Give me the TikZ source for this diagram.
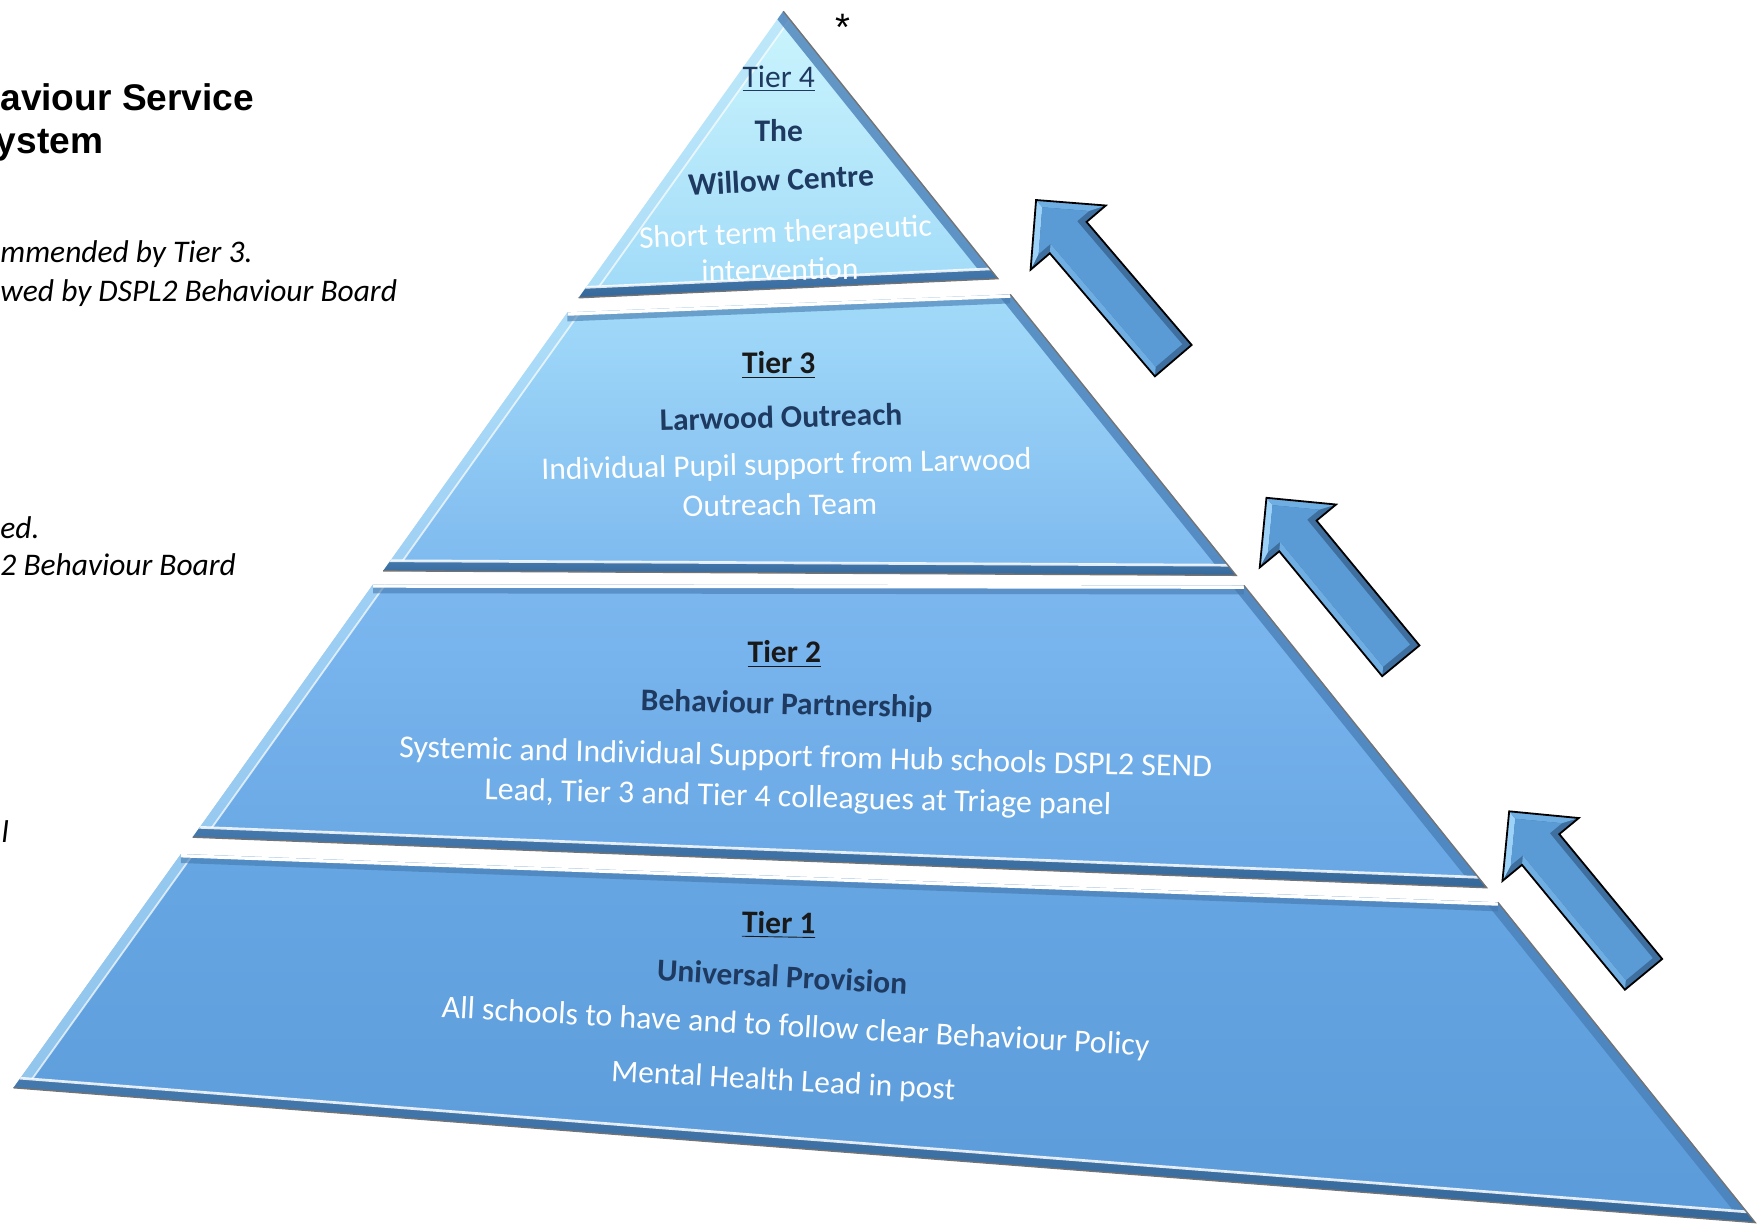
\documentclass[tikz,border=0pt]{standalone}
\usepackage{fontspec}
\setmainfont{Carlito}
\newfontfamily\headfont{Liberation Sans}
\usetikzlibrary{calc}
\definecolor{navy}{HTML}{1F3A60}
\definecolor{bevdark}{HTML}{4479AE}
\definecolor{bevdeep}{HTML}{36689A}
\definecolor{bevlight}{HTML}{B5E0F8}
\definecolor{bevright}{HTML}{4A80B8}
\definecolor{arrowmid}{HTML}{5B9BD5}
\definecolor{arrowdark}{HTML}{3E6F9E}
\definecolor{arrowlight}{HTML}{9CD2F7}
\definecolor{arrowside}{HTML}{6FAEE3}
\definecolor{tfourtop}{HTML}{CBF5FD}
\definecolor{tfourbot}{HTML}{A0DAF8}
\definecolor{tthreetop}{HTML}{A2DBF9}
\definecolor{tthreebot}{HTML}{7EB9EF}
\definecolor{ttwotop}{HTML}{7CB7EF}
\definecolor{ttwobot}{HTML}{68A7E4}
\definecolor{tonetop}{HTML}{66A6E3}
\definecolor{tonebot}{HTML}{5C9BD9}

\newcommand{\pyrtier}[6]{%
 \begin{scope}
  \clip (#1) -- (#2) -- (#3) -- (#4) -- cycle;
  \shade[top color=#5, bottom color=#6] (#1) -- (#2) -- (#3) -- (#4) -- cycle;
  \fill[bevlight, opacity=.6] (#4) -- (#1) -- ([xshift=5.5pt]#1) -- ([xshift=5.5pt]#4) -- cycle;
  \draw[white, opacity=.7, line width=0.8pt] ([xshift=5.5pt]#4) -- ([xshift=5.5pt]#1);
  \fill[bevright, opacity=.8] (#2) -- (#3) -- ([xshift=-5.5pt]#3) -- ([xshift=-5.5pt]#2) -- cycle;
  \shade[top color=bevdark, bottom color=bevdeep] (#4) -- (#3) -- ([yshift=4.5pt]#3) -- ([yshift=4.5pt]#4) -- cycle;
  \draw[white, opacity=.85, line width=1.2pt] ([yshift=4.5pt]#4) -- ([yshift=4.5pt]#3);
  \fill[bevdark, opacity=.6] (#1) -- (#2) -- ([yshift=-4pt]#2) -- ([yshift=-4pt]#1) -- cycle;
  \draw[white, line width=3pt] (#1) -- (#2);
 \end{scope}
 \draw[black!55, line width=0.6pt] (#2) -- (#3) -- (#4);
}

\newcommand{\blockarrow}[2]{%
 \begin{scope}[shift={(#1)}, rotate=#2]
  \fill[arrowdark] (0,0) -- (44,-44) -- (44,-21.5) -- (188,-21.5) -- (188,21.5) -- (44,21.5) -- (44,44) -- cycle;
  \fill[arrowlight] (0,0) -- (44,44) -- (38,29.5) -- (8.5,0) -- cycle;
  \fill[arrowside] (0,0) -- (44,-44) -- (38,-29.5) -- (8.5,0) -- cycle;
  \fill[arrowside] (44,21.5) -- (188,21.5) -- (182,15.5) -- (38,15.5) -- cycle;
  \fill[arrowmid] (8.5,0) -- (38,-29.5) -- (38,-15.5) -- (182,-15.5) -- (182,15.5) -- (38,15.5) -- (38,29.5) -- cycle;
  \draw[black, line width=0.8pt, line join=miter] (0,0) -- (44,-44) -- (44,-21.5) -- (188,-21.5) -- (188,21.5) -- (44,21.5) -- (44,44) -- cycle;
 \end{scope}
}

\begin{document}
\begin{tikzpicture}[x=0.5pt,y=-0.5pt,
  ptext/.style={font=\fontsize{14}{16}\selectfont, inner sep=0pt, text=white},
  ptitle/.style={font=\bfseries\fontsize{14}{16}\selectfont, inner sep=0pt, text=navy},
  tierlbl/.style={font=\bfseries\fontsize{14}{16}\selectfont, inner sep=0pt, text=black!90},
  sidetext/.style={font=\itshape\fontsize{14}{16}\selectfont, inner sep=0pt, anchor=base west},
  headtext/.style={font=\headfont\bfseries\fontsize{16.5}{19}\selectfont, inner sep=0pt, anchor=base west}]
\useasboundingbox (0,0) rectangle (1568,1090);
\fill[white] (0,0) rectangle (1568,1090);

% pyramid corner points
\coordinate (apex) at (697,10);
\coordinate (t4bl) at (515,265);
\coordinate (t4br) at (888,248);
\coordinate (t3tl) at (505,278);
\coordinate (t3tr) at (899,262);
\coordinate (t3bl) at (341,508);
\coordinate (t3br) at (1100,512);
\coordinate (t2tl) at (332,520);
\coordinate (t2tr) at (1107,521);
\coordinate (t2bl) at (171.5,745);
\coordinate (t2br) at (1323,790);
\coordinate (t1tl) at (161,760);
\coordinate (t1tr) at (1333,803);
\coordinate (t1bl) at (12,968);
\coordinate (t1br) at (1562,1088);

\pyrtier{apex}{apex}{t4br}{t4bl}{tfourtop}{tfourbot}
\pyrtier{t3tl}{t3tr}{t3br}{t3bl}{tthreetop}{tthreebot}
\pyrtier{t2tl}{t2tr}{t2br}{t2bl}{ttwotop}{ttwobot}
\pyrtier{t1tl}{t1tr}{t1br}{t1bl}{tonetop}{tonebot}

% arrows
\coordinate (a1) at (922,178);
\coordinate (a2) at (1127,443);
\coordinate (a3) at (1343,722);
\blockarrow{a1}{-49.5}
\blockarrow{a2}{-50.5}
\blockarrow{a3}{-50.5}

% left-hand texts
\node[headtext] (h1) at (0,98) {aviour Service};
\node[headtext] (h2) at (-4,137) {ystem};
\node[sidetext] (s1) at (0,234) {mmended by Tier 3.};
\node[sidetext] (s2) at (0,268) {wed by DSPL2 Behaviour Board};
\node[sidetext] (s3) at (0,479) {ed.};
\node[sidetext] (s4) at (0,512) {2 Behaviour Board};
\node[sidetext] (s5) at (1,750) {l};
\node[font=\headfont\fontsize{17}{19}\selectfont, inner sep=0pt] (star) at (750,24) {*};

% tier 4
\node[ptitle, font=\fontsize{14}{16}\selectfont] (t4a) at (693,70) {\underline{Tier 4}};
\node[ptitle] (t4b) at (693,116) {The};
\node[ptitle, rotate=3] (t4c) at (695,160) {Willow Centre};
\node[ptext, rotate=2.5] (t4d) at (699,208) {Short term therapeutic};
\node[ptext, rotate=1] (t4e) at (694,240) {intervention};

% tier 3
\node[tierlbl] (t3a) at (693,325) {\underline{Tier 3}};
\node[ptitle, rotate=1.5] (t3b) at (695,371) {Larwood Outreach};
\node[ptext, rotate=1.2] (t3c) at (700,415) {Individual Pupil support from Larwood};
\node[ptext, rotate=0.5] (t3d) at (694,449) {Outreach Team};

% tier 2
\node[tierlbl] (t2a) at (698,582) {\underline{Tier 2}};
\node[ptitle, rotate=-1.5] (t2b) at (700,628) {Behaviour Partnership};
\node[ptext, rotate=-1.4, font=\fontsize{14.2}{16}\selectfont] (t2c) at (717,675) {Systemic and Individual Support from Hub schools DSPL2 SEND};
\node[ptext, rotate=-1.4, font=\fontsize{14.2}{16}\selectfont] (t2d) at (710,711) {Lead, Tier 3 and Tier 4 colleagues at Triage panel};

% tier 1
\node[tierlbl, rotate=-1] (t1a) at (693,823) {\underline{Tier 1}};
\node[ptitle, rotate=-3] (t1b) at (696,869) {Universal Provision};
\node[ptext, rotate=-3.1, font=\fontsize{14.2}{16}\selectfont] (t1c) at (708,915) {All schools to have and to follow clear Behaviour Policy};
\node[ptext, rotate=-3.1] (t1d) at (697,963) {Mental Health Lead in post};
\end{tikzpicture}
\end{document}
